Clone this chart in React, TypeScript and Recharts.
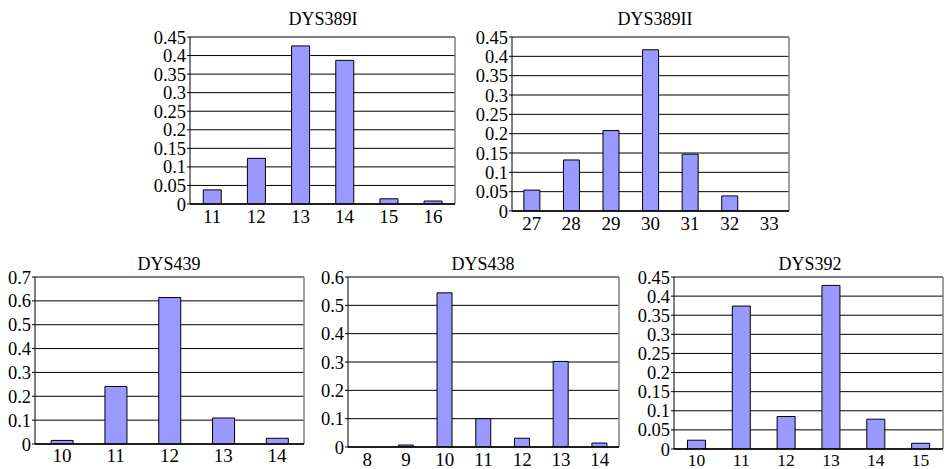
import React from 'react';
import { BarChart, Bar, XAxis, YAxis, CartesianGrid } from 'recharts';

const FONT = '"Liberation Serif", "Times New Roman", Times, serif';

const dys389ICategories = ['11', '12', '13', '14', '15', '16'];
const dys389IValues = [0.038, 0.123, 0.426, 0.387, 0.014, 0.008];
const dys389ITicks = [0, 0.05, 0.1, 0.15, 0.2, 0.25, 0.3, 0.35, 0.4, 0.45];

const dys389IICategories = ['27', '28', '29', '30', '31', '32', '33'];
const dys389IIValues = [0.054, 0.132, 0.208, 0.417, 0.147, 0.039, 0];
const dys389IITicks = [0, 0.05, 0.1, 0.15, 0.2, 0.25, 0.3, 0.35, 0.4, 0.45];

const dys439Categories = ['10', '11', '12', '13', '14'];
const dys439Values = [0.015, 0.241, 0.614, 0.109, 0.024];
const dys439Ticks = [0, 0.1, 0.2, 0.3, 0.4, 0.5, 0.6, 0.7];

const dys438Categories = ['8', '9', '10', '11', '12', '13', '14'];
const dys438Values = [0, 0.007, 0.544, 0.1, 0.031, 0.302, 0.014];
const dys438Ticks = [0, 0.1, 0.2, 0.3, 0.4, 0.5, 0.6];

const dys392Categories = ['10', '11', '12', '13', '14', '15'];
const dys392Values = [0.023, 0.374, 0.085, 0.428, 0.078, 0.015];
const dys392Ticks = [0, 0.05, 0.1, 0.15, 0.2, 0.25, 0.3, 0.35, 0.4, 0.45];

type PanelProps = {
  title: string;
  categories: string[];
  values: number[];
  ticks: number[];
  plotX: number;
  plotY: number;
  plotW: number;
  plotH: number;
  titleX: number;
  titleY: number;
  xTick: number;
  xFont: number;
};

const rightEdge = (args: any) => {
  const o = args && args.offset;
  if (!o) return [];
  return [o.left + o.width];
};

function Panel({ title, categories, values, ticks, plotX, plotY, plotW, plotH, titleX, titleY, xTick, xFont }: PanelProps) {
  const data = categories.map((c, i) => ({ cat: c, value: values[i] }));
  const n = categories.length;
  const boundaries = categories.slice(1).map((_, i) => i + 1);
  const yw = 60;
  const top = 15;
  const right = 5;
  const xh = 30;
  const max = ticks[ticks.length - 1];
  return (
    <>
      <div
        style={{
          position: 'absolute',
          left: titleX - 100,
          width: 200,
          top: titleY,
          height: 20,
          lineHeight: '20px',
          textAlign: 'center',
          fontFamily: FONT,
          fontSize: 18,
          color: '#000',
          whiteSpace: 'nowrap',
        }}
      >
        {title}
      </div>
      <div style={{ position: 'absolute', left: plotX - yw, top: plotY - top }}>
        <BarChart
          width={yw + plotW + right}
          height={top + plotH + xh}
          data={data}
          margin={{ top, right, left: 0, bottom: 0 }}
          barCategoryGap="30%"
          style={{ fontFamily: FONT }}
        >
          <CartesianGrid vertical={false} stroke="#000" strokeWidth={1} />
          <CartesianGrid horizontal={false} vertical verticalCoordinatesGenerator={rightEdge} stroke="#808080" strokeWidth={1.5} />
          <XAxis
            dataKey="cat"
            interval={0}
            tickLine={false}
            axisLine={{ stroke: '#000', strokeWidth: 1.5 }}
            tickSize={xTick}
            tickMargin={1}
            height={xh}
            tick={{ fill: '#000', fontSize: xFont, fontFamily: FONT }}
          />
          <XAxis
            xAxisId="b"
            type="number"
            domain={[0, n]}
            ticks={boundaries}
            interval={0}
            mirror
            tick={false}
            tickSize={3}
            axisLine={false}
            tickLine={{ stroke: '#000' }}
            allowDataOverflow
          />
          <YAxis
            domain={[0, max]}
            ticks={ticks}
            interval={0}
            width={yw}
            tickSize={3}
            tickMargin={1}
            tickLine={{ stroke: '#000' }}
            axisLine={{ stroke: '#000' }}
            tick={{ fill: '#000', fontSize: 18.5, fontFamily: FONT }}
            allowDataOverflow
          />
          <Bar dataKey="value" fill="#9999FF" stroke="#000" strokeWidth={1} isAnimationActive={false} />
        </BarChart>
      </div>
    </>
  );
}

export default function App() {
  return (
    <div style={{ position: 'absolute', left: 0, top: 0, width: 944, height: 469, background: '#fff' }}>
      <Panel title="DYS389I" categories={dys389ICategories} values={dys389IValues} ticks={dys389ITicks}
        plotX={190} plotY={37} plotW={265} plotH={167} titleX={323} titleY={9} xTick={5} xFont={19} />
      <Panel title="DYS389II" categories={dys389IICategories} values={dys389IIValues} ticks={dys389IITicks}
        plotX={512} plotY={37} plotW={277} plotH={174} titleX={655} titleY={9} xTick={5} xFont={19} />
      <Panel title="DYS439" categories={dys439Categories} values={dys439Values} ticks={dys439Ticks}
        plotX={35} plotY={277} plotW={269} plotH={167} titleX={169} titleY={254} xTick={4} xFont={19} />
      <Panel title="DYS438" categories={dys438Categories} values={dys438Values} ticks={dys438Ticks}
        plotX={348} plotY={277} plotW={271} plotH={170} titleX={483} titleY={254} xTick={5} xFont={19} />
      <Panel title="DYS392" categories={dys392Categories} values={dys392Values} ticks={dys392Ticks}
        plotX={674} plotY={277} plotW={269} plotH={172} titleX={810} titleY={254} xTick={4} xFont={17.5} />
    </div>
  );
}
